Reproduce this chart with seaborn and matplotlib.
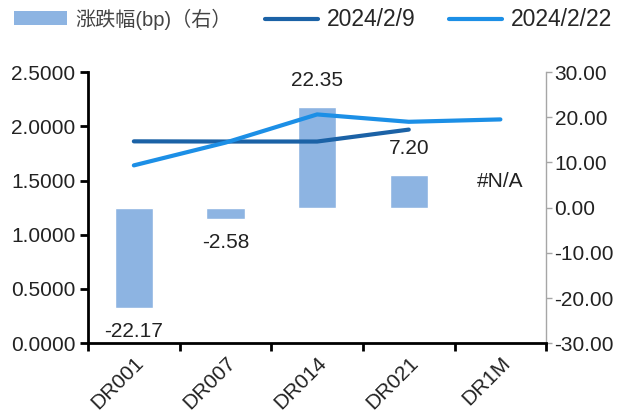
import numpy as np
import pandas as pd
import matplotlib
matplotlib.use("Agg")
import matplotlib.pyplot as plt
from matplotlib.patches import Patch
from matplotlib.lines import Line2D
import seaborn as sns

# Data
categories = ["DR001", "DR007", "DR014", "DR021", "DR1M"]
rate_0209 = [1.8617, 1.8600, 1.8600, 1.9700, np.nan]
rate_0222 = [1.6400, 1.8500, 2.1100, 2.0420, 2.0640]
change_bp = [-22.17, -2.58, 22.35, 7.20, np.nan]
change_labels = ["-22.17", "-2.58", "22.35", "7.20", "#N/A"]
left_ticks = [0.0, 0.5, 1.0, 1.5, 2.0, 2.5]
right_ticks = [-30, -20, -10, 0, 10, 20, 30]

sns.set_theme(style="white")
plt.rcParams["font.family"] = ["Liberation Sans", "Noto Sans CJK SC", "DejaVu Sans"]

FS = 15
LEG_FS = 16.5
BAR_C = "#8db4e2"
DARK_C = "#1b62a6"
LIGHT_C = "#1c8fe6"
LW = 3.0

fig = plt.figure(figsize=(6.20, 4.17), dpi=100)
ax = fig.add_axes([0.142, 0.177, 0.739, 0.650])
ax2 = ax.twinx()

df_bar = pd.DataFrame({"cat": categories, "chg": change_bp})
sns.barplot(data=df_bar, x="cat", y="chg", ax=ax2, color=BAR_C,
            saturation=1, width=0.42, order=categories)

pos = np.arange(len(categories))
sns.lineplot(x=pos, y=rate_0209, ax=ax, color=DARK_C, linewidth=LW)
sns.lineplot(x=pos, y=rate_0222, ax=ax, color=LIGHT_C, linewidth=LW)

ax.set_zorder(ax2.get_zorder() + 1)
ax.patch.set_visible(False)

# Left axis
ax.set_ylim(0, 2.5)
ax.set_yticks(left_ticks)
ax.set_yticklabels([f"{v:.4f}" for v in left_ticks], fontsize=FS, color="#222222")
ax.set_xlim(-0.5, len(categories) - 0.5)
ax.set_xticks(np.arange(-0.5, len(categories), 1.0))
ax.set_xticklabels([])
ax.set_xticks(pos, minor=True)
ax.set_xticklabels(categories, minor=True, rotation=45, ha="right",
                   rotation_mode="anchor", fontsize=FS, color="#222222")
ax.tick_params(axis="x", which="minor", length=0, pad=7)
ax.tick_params(axis="x", which="major", direction="out", length=6, width=2,
               color="black", bottom=True)
ax.tick_params(axis="y", direction="out", length=6, width=2, color="black",
               left=True, pad=3)
ax.set_xlabel("")
ax.set_ylabel("")

# Right axis
ax2.set_ylim(-30, 30)
ax2.set_yticks(right_ticks)
ax2.set_yticklabels([f"{v:.2f}" for v in right_ticks], fontsize=FS, color="#222222")
ax2.tick_params(axis="y", direction="out", length=4, width=1, color="#a6a6a6",
                right=True, pad=2)
ax2.set_ylabel("")
ax2.set_xlabel("")

for a in (ax, ax2):
    a.spines["top"].set_visible(False)
ax.spines["left"].set_color("black")
ax.spines["left"].set_linewidth(2)
ax.spines["bottom"].set_color("black")
ax.spines["bottom"].set_linewidth(2)
ax.spines["right"].set_visible(False)
ax2.spines["left"].set_visible(False)
ax2.spines["bottom"].set_visible(False)
ax2.spines["right"].set_color("#a6a6a6")
ax2.spines["right"].set_linewidth(1)

# Value labels on bars
for i, (v, lab) in enumerate(zip(change_bp, change_labels)):
    val = 0.0 if np.isnan(v) else v
    off = -17 if val < 0 else 19
    ax2.annotate(lab, (i, val), xytext=(0, off), textcoords="offset points",
                 ha="center", va="center", fontsize=FS, color="#222222",
                 zorder=10)

# Legend
handles = [Patch(facecolor=BAR_C, edgecolor="none"),
           Line2D([0], [0], color=DARK_C, linewidth=LW),
           Line2D([0], [0], color=LIGHT_C, linewidth=LW)]
labels = ["涨跌幅(bp)（右）", "2024/2/9", "2024/2/22"]
leg = fig.legend(handles, labels, loc="upper center", bbox_to_anchor=(0.505, 1.03),
                 ncol=3, frameon=False, fontsize=LEG_FS, handlelength=2.3,
                 handleheight=0.55, handletextpad=0.4, columnspacing=1.45)
leg.get_texts()[0].set_fontsize(14.5)
leg.get_texts()[0].set_color("#444444")

fig.savefig("out.png", dpi=100)
